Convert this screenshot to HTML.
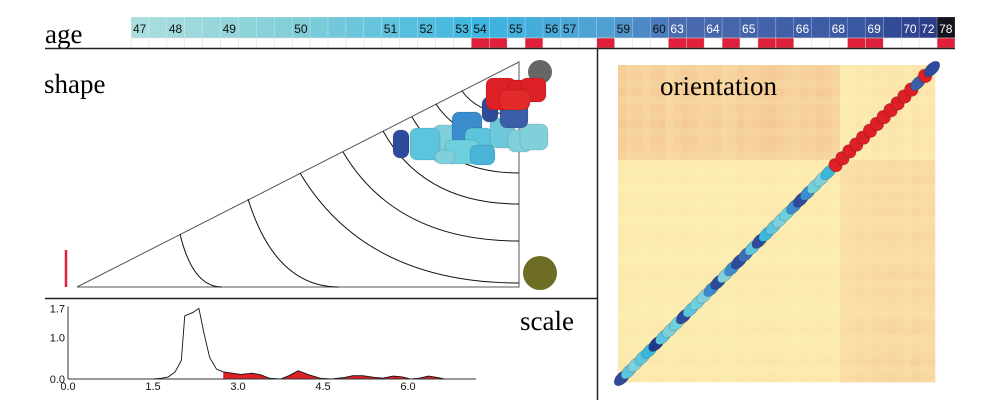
<!DOCTYPE html>
<html><head><meta charset="utf-8"><style>
body{margin:0;background:#fff;}
svg{display:block;font-family:"Liberation Sans",sans-serif;}
.serif{font-family:"Liberation Serif",serif;}
</style></head><body>
<svg id="fig" width="1000" height="418" viewBox="0 0 1000 418">
<text class="serif" x="45" y="43" font-size="27">age</text>
<g id="agebar"></g>
<line x1="45" y1="48.5" x2="955" y2="48.5" stroke="#222" stroke-width="1.5"/>
<line x1="597.5" y1="48" x2="597.5" y2="400" stroke="#222" stroke-width="1.5"/>
<line x1="45" y1="298.5" x2="597" y2="298.5" stroke="#222" stroke-width="1.5"/>
<text class="serif" x="44" y="93" font-size="27">shape</text>
<g id="shape"></g>
<g id="orient"></g>
<text class="serif" x="660" y="95" font-size="27">orientation</text>
<g id="scale"></g>
<text class="serif" x="520" y="330" font-size="27">scale</text>
</svg>
<script>
const NS="http://www.w3.org/2000/svg";
function mk(p,t,a){const e=document.createElementNS(NS,t);for(const k in a)e.setAttribute(k,a[k]);p.appendChild(e);return e;}
// ---- age bar data ----
const ageLabels=["47","","48","","","49","","","","50","","","","","51","","52","","53","54","","55","","56","57","","","59","","60","63","","64","","65","","","66","","68","","69","","70","72","78"];
const ageFlags=[0,0,0,0,0,0,0,0,0,0,0,0,0,0,0,0,0,0,0,1,1,0,1,0,0,0,1,0,0,0,1,1,0,1,0,1,1,0,0,0,1,1,0,0,0,1];
const stops=[[0,[170,222,222]],[9,[128,205,216]],[19,[60,182,224]],[26,[80,160,210]],[29,[75,125,190]],[30,[75,108,175]],[40,[58,88,162]],[44,[44,62,138]],[45,[20,20,30]]];
function cellColor(i){for(let k=0;k<stops.length-1;k++){const a=stops[k],b=stops[k+1];if(i<=b[0]){const t=(i-a[0])/(b[0]-a[0]||1);return "rgb("+a[1].map((v,j)=>Math.round(v+(b[1][j]-v)*t)).join(",")+")";}}return "#111";}
const ab=document.getElementById("agebar");const cw=(955-131)/ageLabels.length;
ageLabels.forEach((lab,i)=>{const x=131+i*cw;
 const r=mk(ab,"rect",{x:x,y:17,width:cw,height:21,fill:cellColor(i),stroke:"rgba(255,255,255,0.35)","stroke-width":0.5});
 
 
 const f=mk(ab,"rect",{x:x,y:38,width:cw,height:10,fill:ageFlags[i]?"#e0203a":"#fff",stroke:"#ddd","stroke-width":0.5});
 
 
 if(lab){const t=mk(ab,"text",{x:x+2,y:33,"font-size":12,fill:i>=30?"#fff":"#111"});t.textContent=lab;
 
 }
});
// ---- shape panel ----
const sh=document.getElementById("shape");
mk(sh,"path",{d:"M77,287 L519,62 L519,287 Z",fill:"none",stroke:"#555","stroke-width":1});
const arcs=[[180,234,222,287],[248,199,339,287],[300,173,519,283],[343,152,519,241],[383,131,519,204],[412,117,519,173],[436,104,519,142],[462,91,519,115]];
arcs.forEach(a=>{const p=mk(sh,"path",{d:`M${a[0]},${a[1]} Q${a[0]+(a[2]-a[0])*0.3},${a[3]} ${a[2]},${a[3]}`,fill:"none",stroke:"#111","stroke-width":1});
 
 });
mk(sh,"line",{x1:66,y1:250,x2:66,y2:287,stroke:"#e0203a","stroke-width":2.5});
const gd=mk(sh,"circle",{cx:540,cy:72,r:12,fill:"#666"});


const od=mk(sh,"circle",{cx:540,cy:273,r:17,fill:"#6e6d25"});


const blobs=[[393,130,16,28,"#2e4a9a"],[433,125,30,38,"#7fd0dc"],[410,128,30,32,"#5cc4dc"],[452,112,30,32,"#3a8ccc"],[465,128,28,30,"#5cc4dc"],[445,140,35,24,"#6ed0dc"],[490,118,25,30,"#6ec8dc"],[508,130,24,22,"#7fd0dc"],[520,124,28,26,"#80d0dc"],[470,145,25,20,"#4ab4d8"],[435,150,20,14,"#7fd0dc"],[500,100,28,28,"#3a5ea8"],[482,97,16,25,"#2e4a9a"],[486,78,30,32,"#dd1f26"],[508,80,25,20,"#dd1f26"],[520,78,26,24,"#dd1f26"],[500,90,30,20,"#e22a2a"]];
blobs.forEach(b=>{const r=mk(sh,"rect",{x:b[0],y:b[1],width:b[2],height:b[3],rx:7,fill:b[4],stroke:"rgba(0,0,0,0.15)","stroke-width":0.7});
 
 });
// ---- orientation heatmap ----
const N=40;
const rowW=[.8,.9,.7,1,.6,.9,.8,1,.7,.9,.8,.6,.4,.3,.5,.2,.4,.3,.5,.2,.3,.5,.4,.3,.2,.4,.6,.3,.5,.4,.3,.2,.5,.6,.3,.4,.5,.7,.4,.6];
const colW=[.9,.7,.8,.6,.8,.9,.5,.7,.9,.8,.6,.7,.8,.5,.6,.9,.7,.8,.9,1,.8,.7,.6,.8,.7,.9,.8,.6,.3,.4,.6,.5,.7,.6,.8,.7,.5,.9,.6,.7];
const blockRows=12,blockCols=28;
const og=document.getElementById("orient");const hx=618,hy=65,hs=317/N;
mk(og,"rect",{x:hx,y:hy,width:317,height:317,fill:"#fdefb2"});
for(let r=0;r<N;r++)for(let c=0;c<N;c++){
 const inBlock=(r<blockRows&&c<blockCols)||(r>=blockRows&&c>=blockCols);
 const v=Math.min(1,(inBlock?0.3:0.02)+(inBlock?0.6:0.3)*rowW[r]*colW[c]);
 const col=`rgb(${Math.round(253-9*v)},${Math.round(240-46*v)},${Math.round(180-36*v)})`;
 const e=mk(og,"rect",{x:hx+c*hs,y:hy+r*hs,width:hs+0.3,height:hs+0.3,fill:col});
 
 
}
const beadColors=["#2e4a9a","#5cc4dc","#80d0dc","#5cc4dc","#3ab8dc","#1e3a8a","#5cc4dc","#80d0dc","#6ed0dc","#2e4a9a","#5cc4dc","#6ed0dc","#80d0dc","#3a8ccc","#2e4a9a","#80d0dc","#3a8ccc","#2e4a9a","#3a6cb8","#5cc4dc","#2e4a9a","#3ab8dc","#5cc4dc","#80d0dc","#6ed0dc","#3a8ccc","#2e4a9a","#3a8ccc","#6ed0dc","#80d0dc","#3ab8dc","#dd1f26","#dd1f26","#dd1f26","#dd1f26","#dd1f26","#dd1f26","#dd1f26","#dd1f26","#dd1f26","#dd1f26","#dd1f26","#dd1f26","#3a5ea8","#dd1f26","#2e4a9a"];
const bx0=622,by0=378,bx1=932,by1=69;
beadColors.forEach((c,i)=>{const t=i/(beadColors.length-1);const x=bx0+(bx1-bx0)*t,y=by0+(by1-by0)*t;
 const red=c==="#dd1f26";
 const e=mk(og,"ellipse",{cx:x,cy:y,rx:red?7:5.5,ry:red?6.5:9.5,fill:c,stroke:"rgba(0,0,0,0.25)","stroke-width":0.6,transform:`rotate(45 ${x} ${y})`});
 
 });
// ---- scale chart ----
const scaleX=[0,1.5,1.65,1.77,1.89,2.0,2.06,2.2,2.31,2.4,2.5,2.62,2.74,2.9,3.05,3.25,3.4,3.55,3.75,3.9,4.06,4.25,4.45,4.65,4.85,5.03,5.2,5.4,5.55,5.74,5.9,6.05,6.2,6.36,6.5,6.65,7.2];
const scaleY=[0,0,0.02,0.05,0.17,0.45,1.52,1.6,1.7,1.1,0.52,0.24,0.17,0.14,0.11,0.14,0.1,0.02,0.0,0.08,0.2,0.1,0.02,0.0,0.03,0.08,0.08,0.04,0.02,0.07,0.05,0.0,0.02,0.07,0.04,0.0,0];
const redFrom=2.74;
const xTicks=[0,1.5,3.0,4.5,6.0];const yTicks=[0,1.0,1.7];
const sx=v=>68+v*(85/1.5), sy=v=>379-v*41.5;
const sg=document.getElementById("scale");
let rp=`M${sx(redFrom)},${sy(0)}`;
scaleX.forEach((x,i)=>{if(x>=redFrom)rp+=` L${sx(x)},${sy(scaleY[i])}`;});
rp+=` L${sx(scaleX[scaleX.length-1])},${sy(0)} Z`;
const rf=mk(sg,"path",{d:rp,fill:"#dd1f26"});


const ln=mk(sg,"path",{d:scaleX.map((x,i)=>(i?"L":"M")+sx(x)+","+sy(scaleY[i])).join(" "),fill:"none",stroke:"#111","stroke-width":0.9});


mk(sg,"line",{x1:68,y1:sy(1.75),x2:68,y2:379,stroke:"#333","stroke-width":1});
mk(sg,"line",{x1:68,y1:379,x2:sx(7.2),y2:379,stroke:"#333","stroke-width":1});
xTicks.forEach(v=>{const t=mk(sg,"text",{x:sx(v),y:390,"font-size":11,"text-anchor":"middle",fill:"#111"});t.textContent=v.toFixed(1);
 
 });
yTicks.forEach(v=>{const t=mk(sg,"text",{x:65,y:sy(v)+4,"font-size":11,"text-anchor":"end",fill:"#111"});t.textContent=v.toFixed(1);
 
 });
</script>
</body></html>
